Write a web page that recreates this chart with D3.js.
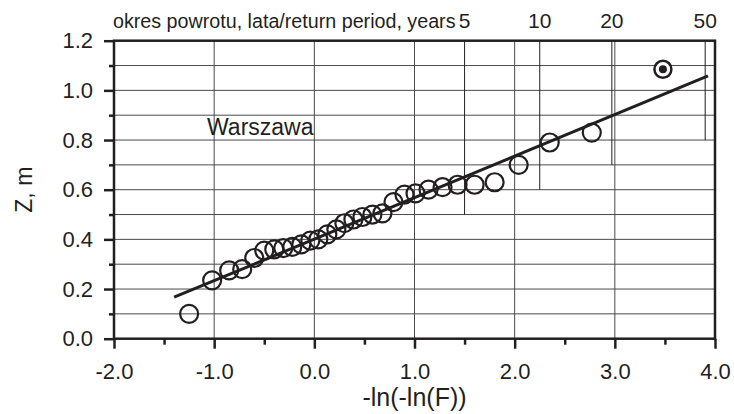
<!DOCTYPE html>
<html>
<head>
<meta charset="utf-8">
<script src="https://cdn.jsdelivr.net/npm/d3@7"></script>
<style>
  html, body { margin: 0; padding: 0; background: #fff; }
  svg { display: block; font-family: "Liberation Sans", Arial, sans-serif; }
</style>
</head>
<body>
<svg id="chart" width="734" height="414"></svg>
<script>
// reduced variate -ln(-ln(F)) of each observation
const reducedVariate = [-1.25, -1.02, -0.85, -0.72, -0.60, -0.50, -0.40, -0.31, -0.22, -0.13,
  -0.04, 0.04, 0.13, 0.22, 0.30, 0.39, 0.48, 0.58, 0.68, 0.79,
  0.90, 1.01, 1.14, 1.28, 1.43, 1.60, 1.80, 2.04, 2.35, 2.77];
// sea level Z, m
const levels = [0.10, 0.235, 0.275, 0.28, 0.325, 0.355, 0.36, 0.365, 0.37, 0.38,
  0.395, 0.40, 0.42, 0.44, 0.465, 0.48, 0.49, 0.50, 0.505, 0.55,
  0.58, 0.585, 0.60, 0.61, 0.62, 0.62, 0.63, 0.70, 0.79, 0.83];
// highest (marked) observation
const maxPoint = [3.48, 1.085];
// fitted line end points
const fitX = [-1.40, 3.93];
const fitY = [0.167, 1.058];
// return periods on top axis and where their lines stop
const returnPeriods = [5, 10, 20, 50];
const returnLineBottom = [0.5, 0.6, 0.7, 0.8];

const svg = d3.select("#chart");
const INK = "#231f20";
const GRID = "#4a4a4a";

const MARGIN = { left: 114, right: 19, top: 40.7, bottom: 75.3 };
const width = 734, height = 414;

const x = d3.scaleLinear().domain([-2, 4]).range([MARGIN.left, width - MARGIN.right]);
const y = d3.scaleLinear().domain([0, 1.2]).range([height - MARGIN.bottom, MARGIN.top]);
const gumbel = (T) => -Math.log(-Math.log(1 - 1 / T));

// plain hyphen for negatives, like the original
const fmt = (d) => d3.format(".1f")(d).replace("\u2212", "-");

// grid
const grid = svg.append("g").attr("stroke", GRID).attr("stroke-width", 1);
grid.selectAll("line.h")
  .data(d3.range(1, 12).map((i) => i / 10))
  .join("line")
  .attr("x1", x(-2)).attr("x2", x(4))
  .attr("y1", (d) => y(d)).attr("y2", (d) => y(d));
grid.selectAll("line.v")
  .data([-1, 0, 1, 2, 3])
  .join("line")
  .attr("x1", (d) => x(d)).attr("x2", (d) => x(d))
  .attr("y1", y(0)).attr("y2", y(1.2));

// return period lines
svg.append("g")
  .selectAll("line")
  .data(returnPeriods)
  .join("line")
  .attr("x1", (d) => x(gumbel(d))).attr("x2", (d) => x(gumbel(d)))
  .attr("y1", y(1.2)).attr("y2", (d, i) => y(returnLineBottom[i]))
  .attr("stroke", INK).attr("stroke-width", 1);

// axes
svg.append("g")
  .attr("transform", `translate(${x(-2)},0)`)
  .call(d3.axisLeft(y).tickValues(d3.range(0, 7).map((i) => i * 0.2)).tickFormat(fmt).tickSize(10).tickPadding(11));
svg.append("g")
  .attr("transform", `translate(${x(-2)},0)`)
  .call(d3.axisLeft(y).tickValues(d3.range(0, 6).map((i) => i * 0.2 + 0.1)).tickFormat("").tickSize(5))
  .call((g) => g.select(".domain").remove());

svg.append("g")
  .attr("transform", `translate(0,${y(0)})`)
  .call(d3.axisBottom(x).tickValues(d3.range(-2, 5)).tickFormat(fmt).tickSize(10).tickPadding(15));
svg.append("g")
  .attr("transform", `translate(0,${y(0)})`)
  .call(d3.axisBottom(x).tickValues(d3.range(-1.5, 4, 1)).tickFormat("").tickSize(6))
  .call((g) => g.select(".domain").remove());

svg.selectAll(".tick line").attr("stroke", INK).attr("stroke-width", 2.5);
svg.selectAll(".domain").attr("stroke", "none");
svg.selectAll(".tick text").attr("fill", INK).attr("font-size", 22).attr("font-family", "Liberation Sans, Arial, sans-serif");

// frame
svg.append("rect")
  .attr("x", x(-2)).attr("y", y(1.2))
  .attr("width", x(4) - x(-2)).attr("height", y(0) - y(1.2))
  .attr("fill", "none").attr("stroke", INK).attr("stroke-width", 2.5);

// fitted line
svg.append("line")
  .attr("x1", x(fitX[0])).attr("y1", y(fitY[0]))
  .attr("x2", x(fitX[1])).attr("y2", y(fitY[1]))
  .attr("stroke", INK).attr("stroke-width", 3);

// observations
svg.append("g")
  .selectAll("circle")
  .data(reducedVariate)
  .join("circle")
  .attr("cx", (d) => x(d))
  .attr("cy", (d, i) => y(levels[i]))
  .attr("r", 9)
  .attr("fill", "none")
  .attr("stroke", INK)
  .attr("stroke-width", 2.2);

svg.append("circle")
  .attr("cx", x(maxPoint[0])).attr("cy", y(maxPoint[1]))
  .attr("r", 8.5).attr("fill", "#fff").attr("stroke", INK).attr("stroke-width", 2.5);
svg.append("circle")
  .attr("cx", x(maxPoint[0])).attr("cy", y(maxPoint[1]))
  .attr("r", 4).attr("fill", INK);

// texts
svg.append("text")
  .attr("x", 113).attr("y", 28)
  .attr("font-size", 19.7).attr("fill", INK)
  .text("okres powrotu, lata/return period, years");
svg.append("g")
  .selectAll("text")
  .data(returnPeriods)
  .join("text")
  .attr("x", (d) => x(gumbel(d)))
  .attr("y", 28)
  .attr("text-anchor", "middle")
  .attr("font-size", 21)
  .attr("fill", INK)
  .text((d) => d);

svg.append("text")
  .attr("x", 207).attr("y", 135)
  .attr("font-size", 23).attr("fill", INK)
  .text("Warszawa");

svg.append("text")
  .attr("x", (x(-2) + x(4)) / 2).attr("y", 406)
  .attr("text-anchor", "middle")
  .attr("font-size", 25).attr("fill", INK)
  .text("-ln(-ln(F))");

svg.append("text")
  .attr("transform", `translate(32,${(y(0) + y(1.2)) / 2}) rotate(-90)`)
  .attr("text-anchor", "middle")
  .attr("font-size", 23).attr("fill", INK)
  .text("Z, m");
</script>
</body>
</html>
